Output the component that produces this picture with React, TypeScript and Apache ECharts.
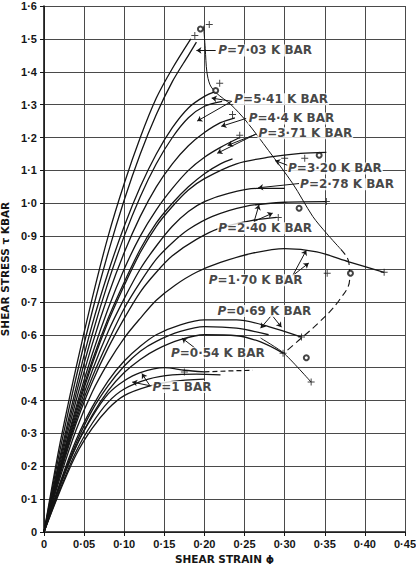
import React, { useEffect, useRef } from 'react';
import * as echarts from 'echarts';

// ---- tick labels ----
const xTickLabels = ['0', '0·05', '0·10', '0·15', '0·20', '0·25', '0·30', '0·35', '0·40', '0·45'];
const yTickLabels = ['0', '0·1', '0·2', '0·3', '0·4', '0·5', '0·6', '0·7', '0·8', '0·9', '1·0', '1·1', '1·2', '1·3', '1·4', '1·5', '1·6'];

// ---- stress–strain curves [shear strain, shear stress (kbar)] ----
const p703a = [[0, 0], [0.02, 0.27], [0.04, 0.5], [0.06, 0.71], [0.08, 0.9], [0.1, 1.06], [0.12, 1.2], [0.14, 1.32], [0.16, 1.41], [0.183, 1.5]];
const p703b = [[0, 0], [0.02, 0.25], [0.04, 0.47], [0.06, 0.67], [0.08, 0.85], [0.1, 1.01], [0.12, 1.15], [0.14, 1.27], [0.16, 1.37], [0.18, 1.45], [0.19, 1.49]];
const p541a = [[0, 0], [0.02, 0.23], [0.04, 0.44], [0.06, 0.63], [0.08, 0.79], [0.1, 0.93], [0.12, 1.05], [0.14, 1.15], [0.16, 1.23], [0.18, 1.29], [0.2, 1.325], [0.214, 1.34]];
const p541b = [[0, 0], [0.02, 0.22], [0.04, 0.42], [0.06, 0.6], [0.08, 0.76], [0.1, 0.9], [0.12, 1.02], [0.14, 1.12], [0.16, 1.2], [0.18, 1.26], [0.2, 1.295], [0.222, 1.31]];
const p44 = [[0, 0], [0.02, 0.21], [0.04, 0.4], [0.06, 0.57], [0.08, 0.72], [0.1, 0.85], [0.12, 0.96], [0.14, 1.05], [0.16, 1.12], [0.18, 1.175], [0.2, 1.215], [0.22, 1.245], [0.238, 1.26]];
const p371a = [[0, 0], [0.02, 0.2], [0.04, 0.38], [0.06, 0.54], [0.08, 0.68], [0.1, 0.8], [0.12, 0.9], [0.14, 0.98], [0.16, 1.045], [0.18, 1.1], [0.2, 1.14], [0.22, 1.17], [0.244, 1.2]];
const p371b = [[0, 0], [0.02, 0.195], [0.04, 0.37], [0.06, 0.52], [0.08, 0.65], [0.1, 0.76], [0.12, 0.86], [0.14, 0.94], [0.16, 1.0], [0.18, 1.05], [0.2, 1.09], [0.22, 1.12], [0.235, 1.135]];
const p320 = [[0, 0], [0.02, 0.19], [0.04, 0.36], [0.06, 0.51], [0.08, 0.64], [0.1, 0.75], [0.12, 0.85], [0.14, 0.93], [0.16, 0.99], [0.18, 1.04], [0.2, 1.075], [0.24, 1.12], [0.28, 1.14], [0.32, 1.152], [0.352, 1.155]];
const p278 = [[0, 0], [0.02, 0.185], [0.04, 0.35], [0.06, 0.49], [0.08, 0.61], [0.1, 0.71], [0.12, 0.8], [0.14, 0.87], [0.16, 0.93], [0.18, 0.975], [0.2, 1.005], [0.23, 1.03], [0.265, 1.045], [0.3, 1.045]];
const p240a = [[0, 0], [0.02, 0.18], [0.04, 0.34], [0.06, 0.47], [0.08, 0.58], [0.1, 0.68], [0.12, 0.76], [0.14, 0.83], [0.16, 0.88], [0.18, 0.92], [0.21, 0.96], [0.25, 0.99], [0.3, 1.003], [0.352, 1.005]];
const p240b = [[0, 0], [0.02, 0.175], [0.04, 0.33], [0.06, 0.455], [0.08, 0.56], [0.1, 0.65], [0.12, 0.73], [0.14, 0.79], [0.16, 0.84], [0.19, 0.89], [0.22, 0.925], [0.26, 0.948], [0.29, 0.957]];
const p170 = [[0, 0], [0.02, 0.165], [0.04, 0.31], [0.06, 0.425], [0.08, 0.515], [0.1, 0.59], [0.12, 0.65], [0.14, 0.705], [0.163, 0.75], [0.19, 0.79], [0.22, 0.82], [0.26, 0.848], [0.3, 0.862], [0.34, 0.852], [0.38, 0.822], [0.424, 0.79]];
const p069a = [[0, 0], [0.02, 0.15], [0.04, 0.28], [0.06, 0.38], [0.08, 0.46], [0.1, 0.52], [0.12, 0.565], [0.14, 0.6], [0.17, 0.63], [0.2, 0.645], [0.24, 0.645], [0.28, 0.625], [0.321, 0.593]];
const p069b = [[0, 0], [0.02, 0.145], [0.04, 0.27], [0.06, 0.37], [0.08, 0.445], [0.1, 0.505], [0.12, 0.55], [0.14, 0.58], [0.17, 0.61], [0.2, 0.625], [0.24, 0.62], [0.28, 0.6]];
const p054a = [[0, 0], [0.02, 0.14], [0.04, 0.26], [0.06, 0.355], [0.08, 0.43], [0.1, 0.485], [0.12, 0.525], [0.14, 0.555], [0.17, 0.585], [0.2, 0.6], [0.24, 0.597], [0.27, 0.578], [0.298, 0.544]];
const p001a = [[0, 0], [0.02, 0.14], [0.04, 0.26], [0.06, 0.35], [0.08, 0.42], [0.1, 0.46], [0.12, 0.485], [0.15, 0.5], [0.175, 0.492], [0.2, 0.487]];
const p001b = [[0, 0], [0.02, 0.13], [0.04, 0.245], [0.06, 0.33], [0.08, 0.395], [0.1, 0.435], [0.13, 0.465], [0.16, 0.478], [0.19, 0.48], [0.22, 0.478]];
const p001c = [[0, 0], [0.02, 0.125], [0.04, 0.235], [0.06, 0.315], [0.08, 0.375], [0.1, 0.415], [0.13, 0.443], [0.16, 0.458], [0.2, 0.465]];
const p001tail = [[0.2, 0.487], [0.23, 0.49], [0.26, 0.492]];

// ---- failure envelope ----
const envelopeSolid = [[0.199, 1.54], [0.201, 1.47], [0.203, 1.4], [0.207, 1.36], [0.215, 1.335], [0.233, 1.3], [0.252, 1.25], [0.28, 1.16], [0.31, 1.06], [0.335, 0.96], [0.352, 0.909], [0.37, 0.86]];
const envelopeDashed = [[0.37, 0.86], [0.38, 0.82], [0.381, 0.77], [0.368, 0.705], [0.343, 0.638], [0.318, 0.584], [0.299, 0.544]];
const lowFailure = [[0.27, 0.59], [0.299, 0.544], [0.333, 0.456]];

// ---- end markers ----
const plusPoints = [[0.206, 1.544], [0.188, 1.51], [0.219, 1.365], [0.235, 1.27], [0.244, 1.207], [0.3, 1.137], [0.325, 1.137], [0.292, 0.957], [0.352, 1.005], [0.353, 0.787], [0.424, 0.79], [0.321, 0.593], [0.298, 0.544], [0.333, 0.456], [0.175, 0.487]];
const circlePoints = [[0.195, 1.53], [0.214, 1.343], [0.343, 1.146], [0.318, 0.985], [0.382, 0.787], [0.327, 0.53]];

// ---- annotations ----
const labelTexts = ['7·03 K BAR', '5·41 K BAR', '4·4 K BAR', '3·71 K BAR', '3·20 K BAR', '2·78 K BAR', '2·40 K BAR', '1·70 K BAR', '0·69 K BAR', '0·54 K BAR', '1 BAR'];
const labelAnchors = [[0.216, 1.465], [0.236, 1.316], [0.254, 1.258], [0.266, 1.213], [0.303, 1.106], [0.318, 1.058], [0.216, 0.924], [0.204, 0.766], [0.215, 0.672], [0.157, 0.544], [0.134, 0.441]];
const arrows = [
  [[0.214, 1.465], [0.19, 1.465]],
  [[0.234, 1.31], [0.191, 1.25]],
  [[0.234, 1.31], [0.209, 1.32]],
  [[0.252, 1.258], [0.221, 1.234]],
  [[0.264, 1.21], [0.216, 1.152]],
  [[0.264, 1.21], [0.229, 1.176]],
  [[0.304, 1.115], [0.288, 1.13]],
  [[0.318, 1.06], [0.267, 1.047]],
  [[0.262, 0.945], [0.268, 0.995]],
  [[0.262, 0.945], [0.285, 0.97]],
  [[0.31, 0.78], [0.327, 0.857]],
  [[0.31, 0.78], [0.33, 0.818]],
  [[0.284, 0.66], [0.296, 0.623]],
  [[0.284, 0.66], [0.27, 0.62]],
  [[0.188, 0.56], [0.172, 0.59]],
  [[0.132, 0.445], [0.122, 0.482]],
  [[0.132, 0.445], [0.11, 0.456]],
];

const curves = [p703a, p703b, p541a, p541b, p44, p371a, p371b, p320, p278, p240a, p240b, p170, p069a, p069b, p054a, p001a, p001b, p001c];

const INK = '#151515';
const FONT = 'DejaVu Sans';
const TICKFONT = 'Liberation Sans';

export default function App() {
  const ref = useRef<HTMLDivElement>(null);
  useEffect(() => {
    if (!ref.current) return;
    const chart = echarts.init(ref.current, undefined, { renderer: 'svg' });
    const series: any[] = [];
    curves.forEach((c) => {
      series.push({
        type: 'line', data: c, smooth: 0.3, showSymbol: false, symbol: 'none',
        lineStyle: { color: INK, width: 1.3 }, silent: true, z: 3,
      });
    });
    series.push({ type: 'line', data: p001tail, showSymbol: false, symbol: 'none', lineStyle: { color: INK, width: 1.2, type: [5, 3] }, z: 3 });
    series.push({ type: 'line', data: envelopeSolid, smooth: 0.3, showSymbol: false, symbol: 'none', lineStyle: { color: INK, width: 1 }, z: 3 });
    series.push({ type: 'line', data: envelopeDashed, smooth: 0.4, showSymbol: false, symbol: 'none', lineStyle: { color: INK, width: 1.1, type: [7, 4] }, z: 3 });
    series.push({ type: 'line', data: lowFailure, smooth: 0.2, showSymbol: false, symbol: 'none', lineStyle: { color: INK, width: 1 }, z: 3 });
    series.push({
      type: 'scatter', data: plusPoints, symbol: 'path://M4.3,0h1.4v10h-1.4z M0,4.3h10v1.4h-10z', symbolSize: 7,
      itemStyle: { color: INK }, z: 4,
    });
    series.push({
      type: 'scatter', data: circlePoints, symbol: 'emptyCircle', symbolSize: 5,
      itemStyle: { color: INK, borderWidth: 1 }, z: 4,
    });
    series.push({
      type: 'lines', coordinateSystem: 'cartesian2d', data: arrows.map((a) => ({ coords: a })),
      symbol: ['none', 'arrow'], symbolSize: 5, lineStyle: { color: INK, width: 1, opacity: 1 }, z: 4,
    });
    series.push({
      type: 'scatter', symbolSize: 0,
      data: labelAnchors.map((a, i) => ({ value: [a[0], a[1]], name: labelTexts[i] })),
      label: {
        show: true, position: 'right', distance: 0,
        formatter: (p: any) => `{i|P}{n|=${p.name}}`,
        rich: {
          i: { fontFamily: FONT, fontStyle: 'italic', fontWeight: 'bold', fontSize: 12, color: INK },
          n: { fontFamily: FONT, fontWeight: 'bold', fontSize: 12, color: INK },
        },
        backgroundColor: '#fff', padding: [0, 1],
      },
      z: 5,
    });

    chart.setOption({
      animation: false,
      backgroundColor: '#fff',
      grid: { left: 44, right: 11, top: 6, bottom: 32, containLabel: false, outerBoundsMode: 'none' },
      xAxis: {
        type: 'value', min: 0, max: 0.45, interval: 0.05,
        name: 'SHEAR STRAIN ϕ', nameLocation: 'middle', nameGap: 17,
        nameTextStyle: { fontFamily: FONT, fontWeight: 'bold', fontSize: 10.5, color: INK },
        axisLine: { show: true, lineStyle: { color: INK, width: 1.6 } },
        axisTick: { show: true, length: 4, lineStyle: { color: INK } },
        splitLine: { show: true, lineStyle: { color: '#4a4a4a', width: 1 } },
        axisLabel: {
          fontFamily: TICKFONT, fontWeight: 'bold', fontSize: 11, color: INK, margin: 6,
          formatter: (v: number) => xTickLabels[Math.round(v / 0.05)] ?? '',
        },
      },
      yAxis: {
        type: 'value', min: 0, max: 1.6, interval: 0.1,
        name: 'SHEAR STRESS τ KBAR', nameLocation: 'middle', nameGap: 25, nameRotate: 90,
        nameTextStyle: { fontFamily: FONT, fontWeight: 'bold', fontSize: 10.5, color: INK },
        axisLine: { show: true, lineStyle: { color: INK, width: 1.6 } },
        axisTick: { show: true, length: 4, lineStyle: { color: INK } },
        splitLine: { show: true, lineStyle: { color: '#4a4a4a', width: 1 } },
        axisLabel: {
          fontFamily: TICKFONT, fontWeight: 'bold', fontSize: 11, color: INK, margin: 7,
          formatter: (v: number) => yTickLabels[Math.round(v / 0.1)] ?? '',
        },
      },
      series,
    });
    return () => chart.dispose();
  }, []);
  return <div ref={ref} style={{ width: 416, height: 564, position: 'absolute', left: 0, top: 0 }} />;
}
